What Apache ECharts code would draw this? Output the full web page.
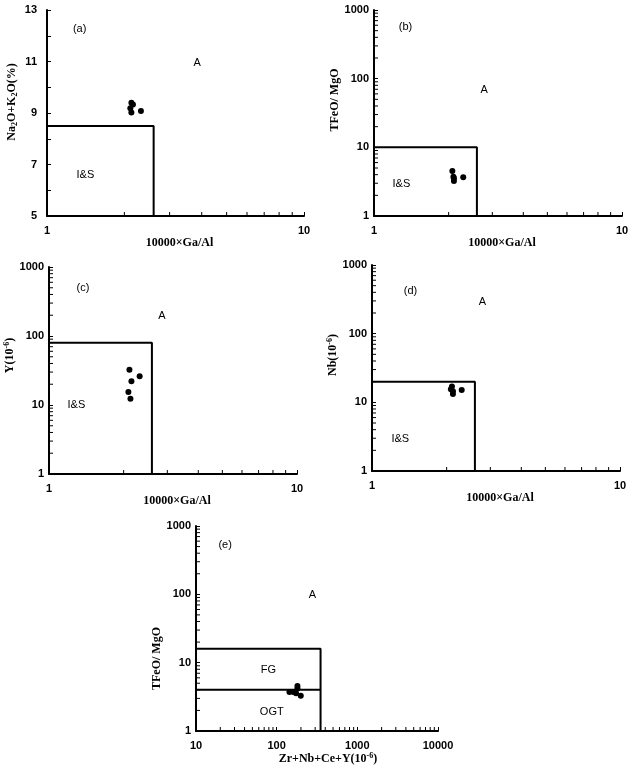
<!DOCTYPE html>
<html>
<head>
<meta charset="utf-8">
<script src="https://cdn.jsdelivr.net/npm/echarts@6/dist/echarts.min.js"></script>
<style>
  html, body { margin: 0; padding: 0; background: #fff; }
  #main { width: 633px; height: 770px; }
</style>
</head>
<body>
<div id="main"></div>
<script>
// 样品数据 (每个小图一组)
var gaAl_a = [2.13, 2.16, 2.11, 2.13, 2.32];
var alk_a = [9.40, 9.33, 9.18, 9.02, 9.08];

var gaAl_b = [2.07, 2.09, 2.10, 2.10, 2.29];
var feMg_b = [4.52, 3.73, 3.54, 3.23, 3.66];

var gaAl_c = [2.11, 2.32, 2.15, 2.09, 2.13];
var y_c = [32.5, 26, 22, 15.4, 12.3];

var gaAl_d = [2.10, 2.08, 2.12, 2.12, 2.30];
var nb_d = [17.0, 15.5, 14.5, 13.2, 15.1];

var sum_e = [181, 144, 161, 174, 199, 181];
var feMg_e = [4.55, 3.72, 3.72, 3.56, 3.28, 4.2];

// 判别界线
var bound_a = [[1, 8.5], [2.6, 8.5], [2.6, 5]];
var bound_b = [[1, 10], [2.6, 10], [2.6, 1]];
var bound_c = [[1, 80], [2.6, 80], [2.6, 1]];
var bound_d = [[1, 20], [2.6, 20], [2.6, 1]];
var bound_e = [[10, 16], [350, 16], [350, 1]];
var bound_e2 = [[10, 4], [350, 4]];

// 区域文字
var names_a = [['(a)', 1.34, 12.26], ['A', 3.84, 10.94], ['I&S', 1.41, 6.6]];
var names_b = [['(b)', 1.34, 565], ['A', 2.78, 68], ['I&S', 1.29, 2.9]];
var names_c = [['(c)', 1.37, 496], ['A', 2.85, 192], ['I&S', 1.29, 10]];
var names_d = [['(d)', 1.43, 418], ['A', 2.79, 292], ['I&S', 1.3, 2.9]];
var names_e = [['(e)', 23, 536], ['A', 277, 97], ['FG', 79, 7.8], ['OGT', 87, 1.9]];

// 对数轴次刻度 (每个十进位内 2..9)
var minorSteps = [2, 3, 4, 5, 6, 7, 8, 9];

// 轴名 (富文本: sub 下标, sup 上标)
var xName = '{n|10000×Ga/Al}';
var xName_e = '{n|Zr+Nb+Ce+Y(10}{sup|-6}{n|)}';
var yName_a = '{n|Na}{sub|2}{n|O+K}{sub|2}{n|O(%)}';
var yName_fe = '{n|TFeO/ MgO}';
var yName_c = '{n|Y(10}{sup|-6}{n|)}';
var yName_d = '{n|Nb(10}{sup|-6}{n|)}';

var panels = [
  { grid: { left: 47, top: 10, width: 257, height: 206 },
    x: [1, 10], y: [5, 13], yLog: false, xName: xName, yName: yName_a,
    xs: gaAl_a, ys: alk_a, bounds: [bound_a], names: names_a,
    yGap: 28, yPad: [0, 0, 0, 22], yMargin: 10, xGap: 19, xPad: [0, 0, 0, 8] },
  { grid: { left: 374, top: 10, width: 248, height: 206 },
    x: [1, 10], y: [1, 1000], yLog: true, xName: xName, yName: yName_fe,
    xs: gaAl_b, ys: feMg_b, bounds: [bound_b], names: names_b,
    yGap: 30, yPad: [0, 0, 0, 26], yMargin: 5, xGap: 19, xPad: [0, 0, 0, 8] },
  { grid: { left: 49, top: 267, width: 248, height: 207 },
    x: [1, 10], y: [1, 1000], yLog: true, xName: xName, yName: yName_c,
    xs: gaAl_c, ys: y_c, bounds: [bound_c], names: names_c,
    yGap: 30, yPad: [0, 0, 0, 30], yMargin: 5, xGap: 18, xPad: [0, 0, 0, 8] },
  { grid: { left: 372, top: 265, width: 248, height: 206 },
    x: [1, 10], y: [1, 1000], yLog: true, xName: xName, yName: yName_d,
    xs: gaAl_d, ys: nb_d, bounds: [bound_d], names: names_d,
    yGap: 31, yPad: [0, 0, 0, 26], yMargin: 5, xGap: 18, xPad: [0, 0, 0, 8] },
  { grid: { left: 196, top: 526, width: 242, height: 205 },
    x: [10, 10000], y: [1, 1000], yLog: true, xName: xName_e, yName: yName_fe,
    xs: sum_e, ys: feMg_e, bounds: [bound_e, bound_e2], names: names_e,
    yGap: 22, yPad: [0, 60, 0, 0], yMargin: 5, xGap: 16, xPad: [0, 0, 0, 22] }
];

var axisLine = { show: true, lineStyle: { color: '#000', width: 2 } };
var tickLabel = {
  color: '#000', fontFamily: 'Liberation Sans', fontWeight: 'bold', fontSize: 11,
  formatter: function (v) { return String(v); }
};
var serif = { color: '#000', fontFamily: 'Liberation Serif', fontWeight: 'bold' };
var nameRich = {
  n: Object.assign({ fontSize: 12, lineHeight: 14 }, serif),
  sub: Object.assign({ fontSize: 8, lineHeight: 14, verticalAlign: 'bottom', padding: [4, 0, 0, 0] }, serif),
  sup: Object.assign({ fontSize: 8, lineHeight: 14, verticalAlign: 'top', padding: [0, 0, 4, 0] }, serif)
};

function minorValues(lo, hi) {
  var out = [];
  for (var d = lo; d < hi; d *= 10) {
    minorSteps.forEach(function (s) { out.push(s * d); });
  }
  return out;
}

function tickSeries(i, dim, values, other) {
  return {
    type: 'custom', xAxisIndex: i, yAxisIndex: i, silent: true, z: 3,
    data: values.map(function (v) { return dim === 'x' ? [v, other] : [other, v]; }),
    renderItem: function (params, api) {
      var p = api.coord([api.value(0), api.value(1)]);
      var shape = dim === 'x'
        ? { x1: p[0], y1: p[1], x2: p[0], y2: p[1] - 4 }
        : { x1: p[0], y1: p[1], x2: p[0] + 4, y2: p[1] };
      return { type: 'line', shape: shape, style: { stroke: '#000', lineWidth: 1 } };
    }
  };
}

var option = { backgroundColor: '#fff', animation: false, grid: [], xAxis: [], yAxis: [], series: [] };

panels.forEach(function (p, i) {
  option.grid.push(p.grid);
  option.xAxis.push({
    type: 'log', logBase: 10, gridIndex: i, min: p.x[0], max: p.x[1],
    name: p.xName, nameLocation: 'middle', nameGap: p.xGap,
    nameTextStyle: Object.assign({ padding: p.xPad, rich: nameRich }, serif),
    axisLine: axisLine,
    axisTick: { show: true, inside: true, length: 4, lineStyle: { color: '#000' } },
    axisLabel: Object.assign({ margin: 9 }, tickLabel),
    splitLine: { show: false }
  });
  var yAxis = {
    gridIndex: i, min: p.y[0], max: p.y[1],
    name: p.yName, nameLocation: 'middle', nameGap: p.yGap,
    nameTextStyle: Object.assign({ padding: p.yPad, rich: nameRich }, serif),
    axisLine: axisLine,
    axisTick: { show: true, inside: true, length: 4, lineStyle: { color: '#000' } },
    axisLabel: Object.assign({ margin: p.yMargin }, tickLabel),
    splitLine: { show: false }
  };
  if (p.yLog) {
    yAxis.type = 'log';
    yAxis.logBase = 10;
  } else {
    yAxis.type = 'value';
    yAxis.interval = 2;
    yAxis.minorTick = { show: true, splitNumber: 2, length: 4, lineStyle: { color: '#000' } };
    yAxis.minorSplitLine = { show: false };
  }
  option.yAxis.push(yAxis);

  // 次刻度
  option.series.push(tickSeries(i, 'x', minorValues(p.x[0], p.x[1]), p.y[0]));
  if (p.yLog) option.series.push(tickSeries(i, 'y', minorValues(p.y[0], p.y[1]), p.x[0]));

  p.bounds.forEach(function (b) {
    option.series.push({
      type: 'line', xAxisIndex: i, yAxisIndex: i, data: b, symbol: 'none', silent: true,
      lineStyle: { color: '#000', width: 2 }
    });
  });

  option.series.push({
    type: 'scatter', xAxisIndex: i, yAxisIndex: i, symbolSize: 6, z: 4,
    itemStyle: { color: '#000', opacity: 1 },
    data: p.xs.map(function (v, k) { return [v, p.ys[k]]; })
  });

  option.series.push({
    type: 'custom', xAxisIndex: i, yAxisIndex: i, silent: true, z: 5,
    data: p.names.map(function (n) { return [n[1], n[2]]; }),
    renderItem: function (params, api) {
      var c = api.coord([api.value(0), api.value(1)]);
      return {
        type: 'text', x: c[0], y: c[1],
        style: {
          text: p.names[params.dataIndex][0], fill: '#000',
          fontFamily: 'Liberation Sans', fontSize: 11,
          align: 'center', verticalAlign: 'middle'
        }
      };
    }
  });
});

var myChart = echarts.init(document.getElementById('main'));
myChart.setOption(option);
window.addEventListener('resize', function () {
  myChart.resize();
});
</script>
</body>
</html>
